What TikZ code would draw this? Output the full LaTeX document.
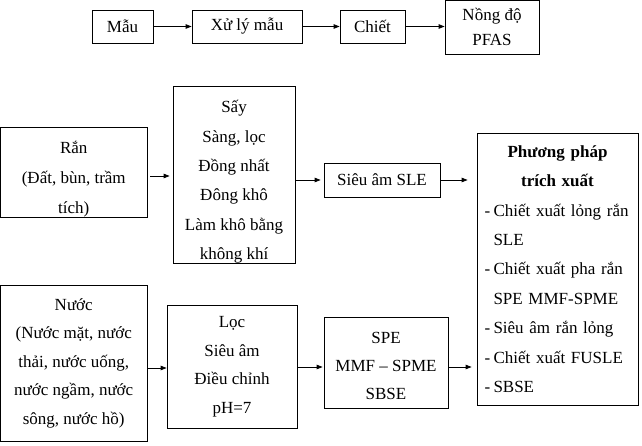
\documentclass[tikz,border=0pt]{standalone}
\usepackage{fontspec}
\setmainfont{Liberation Serif}
\usetikzlibrary{arrows.meta}

\newcommand{\ppitem}[1]{\makebox[9pt][l]{-}#1}
\newcommand{\topgap}[1]{\rule{0pt}{#1}}

\begin{document}
\begin{tikzpicture}[x=1pt, y=-1pt, > = {Triangle[length=6pt,width=4.5pt]},
    box/.style = {draw, line width=.8pt, inner sep=0pt, align=center, font=\fontsize{17}{29.4}\selectfont},
    flow/.style = {->, line width=.8pt}]

    \useasboundingbox (0,0) rectangle (642,446);

    % top row
    \node[box, minimum width=61pt, minimum height=33pt] (mau) at (122.5,26.5) {Mẫu};
    \node[box, minimum width=110pt, minimum height=33pt] (xuly) at (247,26.5) {Xử lý mẫu};
    \node[box, minimum width=65pt, minimum height=33pt] (chiet) at (372.5,26.5) {Chiết};
    \node[box, minimum width=94pt, minimum height=53.5pt, font=\fontsize{17}{25}\selectfont] (nongdo) at (492,27.25) {Nồng độ\\PFAS};

    \draw[flow] (mau) -- (xuly);
    \draw[flow] (xuly) -- (chiet);
    \draw[flow] (chiet.east) -- (chiet.east -| nongdo.west);

    % solid samples
    \node[box, minimum width=146.5pt, minimum height=89pt, font=\fontsize{17}{30}\selectfont] (ran) at (73.75,172.5) {\topgap{26pt}Rắn\\(Đất, bùn, trầm\\tích)};
    \node[box, minimum width=122pt, minimum height=176pt] (say) at (234,175) {\topgap{26pt}Sấy\\Sàng, lọc\\Đồng nhất\\Đông khô\\Làm khô bằng\\không khí};
    \node[box, minimum width=116pt, minimum height=34pt] (sle) at (382,180) {Siêu âm SLE};

    % extraction methods
    \node[box, align=left, text width=146pt, minimum width=161pt, minimum height=272pt] (pp) at (557.5,269)
        {\makebox[146pt]{\bfseries Phương pháp}\\
         \makebox[146pt]{\bfseries trích xuất}\\
         \ppitem{Chiết xuất lỏng rắn}\\
         \hspace*{9pt}SLE\\
         \ppitem{Chiết xuất pha rắn}\\
         \hspace*{9pt}SPE MMF-SPME\\
         \ppitem{Siêu âm rắn lỏng}\\
         \ppitem{Chiết xuất FUSLE}\\
         \ppitem{SBSE}};

    \draw[flow, shorten <=3pt, shorten >=3pt] ([yshift=-3.5pt]ran.east) -- ([yshift=-3.5pt]ran.east -| say.west);
    \draw[flow, shorten >=3pt] (sle.west -| say.east) -- (sle.west);
    \draw[flow, shorten >=9pt] (sle.east) -- (sle.east -| pp.west);

    % water samples
    \node[box, minimum width=146.5pt, minimum height=156pt, font=\fontsize{17}{28.5}\selectfont] (nuoc) at (73.75,363) {Nước\\(Nước mặt, nước\\thải, nước uống,\\nước ngầm, nước\\sông, nước hồ)};
    \node[box, minimum width=130pt, minimum height=123pt, font=\fontsize{17}{28.5}\selectfont] (loc) at (232,366.5) {Lọc\\Siêu âm\\Điều chỉnh\\pH=7};
    \node[box, minimum width=124pt, minimum height=91pt, font=\fontsize{17}{28}\selectfont] (spe) at (386,362.5) {\topgap{17.5pt}SPE\\MMF – SPME\\SBSE};

    \draw[flow] ([yshift=-5pt]nuoc.east) -- ([yshift=-5pt]nuoc.east -| loc.west);
    \draw[flow, shorten >=1pt] ([yshift=-4.5pt]spe.west -| loc.east) -- ([yshift=-4.5pt]spe.west);
    \draw[flow, shorten >=5pt] ([yshift=-4.5pt]spe.east) -- ([yshift=-4.5pt]spe.east -| pp.west);

\end{tikzpicture}
\end{document}
